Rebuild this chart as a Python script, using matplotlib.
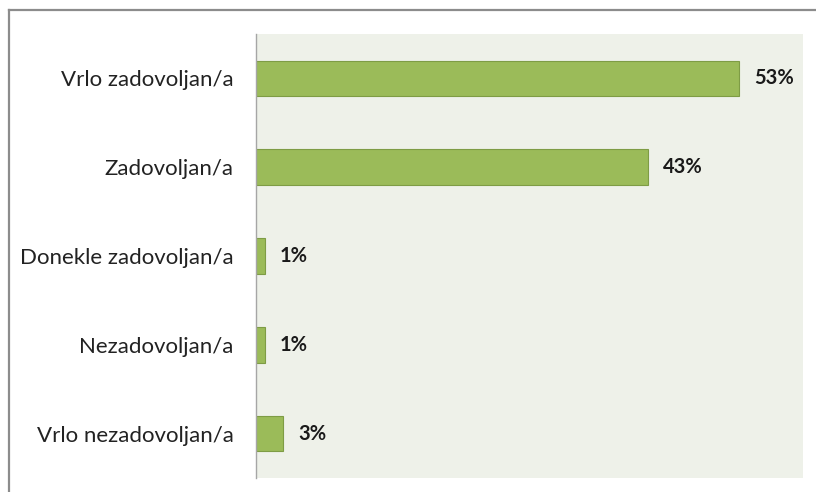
import matplotlib
matplotlib.use("Agg")
import matplotlib.pyplot as plt
from matplotlib.lines import Line2D

plt.rcParams["font.family"] = ["Lato", "DejaVu Sans"]

# satisfaction survey answers, top to bottom
categories = ["Vrlo zadovoljan/a", "Zadovoljan/a", "Donekle zadovoljan/a",
              "Nezadovoljan/a", "Vrlo nezadovoljan/a"]
shares = [53, 43, 1, 1, 3]

BAR = "#9BBB59"
BAR_EDGE = "#7E9C45"
PLOT_BG = "#EEF1E9"
FRAME = "#8C8C8C"

fig = plt.figure(figsize=(8.16, 4.92), dpi=100)
ax = fig.add_axes([0.3137, 0.0285, 0.6703, 0.9024])
ax.set_facecolor(PLOT_BG)

y = range(len(categories))
ax.barh(y, shares, height=0.4, color=BAR, edgecolor=BAR_EDGE, linewidth=0.8, zorder=2)

for yi, v in zip(y, shares):
    ax.annotate(f"{v}%", (v, yi), xytext=(10.5, 0), textcoords="offset points",
                va="center", ha="left", fontsize=14.5, fontweight="bold", color="#1a1a1a")

ax.set_xlim(0, 60)
ax.set_ylim(len(categories) - 0.5, -0.5)
ax.set_yticks(list(y))
ax.set_yticklabels(categories, fontsize=16, color="#222222")
ax.tick_params(axis="y", length=0, pad=16)
ax.set_xticks([])

for side in ["top", "right", "bottom"]:
    ax.spines[side].set_visible(False)
ax.spines["left"].set_color("#A6A6A6")
ax.spines["left"].set_linewidth(1.0)

# outer chart frame (left and top edges)
fig.add_artist(Line2D([9 / 816, 9 / 816], [0, 1 - 10 / 492],
                      transform=fig.transFigure, color=FRAME, linewidth=1.6))
fig.add_artist(Line2D([9 / 816, 1], [1 - 10 / 492, 1 - 10 / 492],
                      transform=fig.transFigure, color=FRAME, linewidth=1.6))

fig.savefig("out.png", dpi=100, facecolor="white")
